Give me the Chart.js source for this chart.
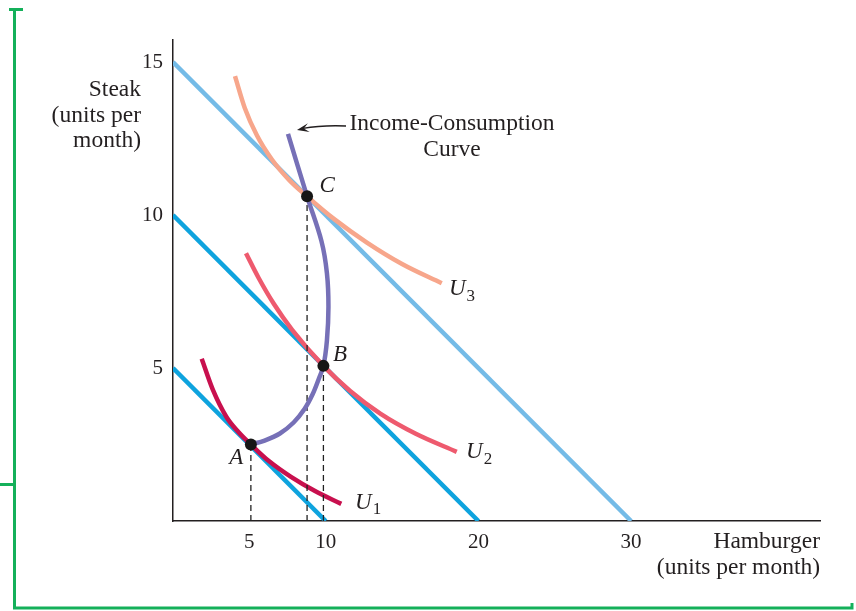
<!DOCTYPE html>
<html>
<head>
<meta charset="utf-8">
<script src="https://cdn.jsdelivr.net/npm/chart.js@4.4.0/dist/chart.umd.min.js"></script>
<style>
  html, body { margin: 0; padding: 0; background: #ffffff; }
  #wrap { width: 856px; height: 611px; position: relative; }
</style>
</head>
<body>
<div id="wrap"><canvas id="c" width="856" height="611"></canvas></div>
<script>
// ---------- data ----------
const hamburgerTicks = [5, 10, 20, 30];
const steakTicks = [5, 10, 15];

const budget1 = [[0, 5], [10, 0]];
const budget2 = [[0, 10], [20, 0]];
const budget3 = [[0, 15], [30, 0]];

const curveU1 = [[1.88, 5.3], [2.6, 4.3], [3.5, 3.4], [4.3, 2.9], [5.1, 2.5], [6.3, 1.95], [7.7, 1.45], [9.3, 0.98], [11.02, 0.56]];
const curveU2 = [[4.78, 8.75], [5.6, 7.95], [6.6, 7.1], [7.8, 6.25], [9.85, 5.07], [11.6, 4.25], [13.6, 3.5], [15.9, 2.85], [18.58, 2.26]];
const curveU3 = [[4.06, 14.54], [4.7, 13.5], [5.5, 12.6], [6.5, 11.8], [7.6, 11.15], [8.78, 10.61], [10.6, 9.85], [12.7, 9.1], [15.0, 8.4], [17.6, 7.77]];

const incomeConsumption = [[5.1, 2.5], [6.0, 2.63], [7.0, 2.86], [7.9, 3.22], [8.6, 3.65], [9.15, 4.15], [9.55, 4.65],
  [9.85, 5.07], [10.08, 5.9], [10.18, 7.0], [10.08, 8.1], [9.72, 9.15], [8.78, 10.61], [7.53, 12.65]];

const pointNames = ['A', 'B', 'C'];
const pointX = [5.1, 9.85, 8.78];
const pointY = [2.5, 5.07, 10.61];

const curveNames = ['U', 'U', 'U'];
const curveSubs = ['1', '2', '3'];

// ---------- helpers ----------
const toXY = arr => arr.map(p => ({ x: p[0], y: p[1] }));
const SERIF = '"Liberation Serif", "DejaVu Serif", serif';

function lineDS(data, color, order, extra) {
  return Object.assign({
    data: toXY(data), borderColor: color, borderWidth: 4.5, pointRadius: 0,
    tension: 0.4, fill: false, order: order, borderCapStyle: 'butt'
  }, extra || {});
}

const datasets = [
  lineDS(budget1, '#0ea3de', 6, { tension: 0 }),
  lineDS(budget2, '#0ea3de', 6, { tension: 0 }),
  lineDS(budget3, '#74bbe7', 6, { tension: 0 }),
  lineDS(curveU1, '#c8104e', 5, { cubicInterpolationMode: 'monotone' }),
  lineDS(curveU2, '#ee5a6e', 5, { cubicInterpolationMode: 'monotone' }),
  lineDS(curveU3, '#f7a68b', 5, { cubicInterpolationMode: 'monotone' }),
];
// dashed drop lines
for (let i = 0; i < pointX.length; i++) {
  datasets.push({
    data: [{ x: pointX[i], y: 0 }, { x: pointX[i], y: pointY[i] }],
    borderColor: '#222', borderWidth: 1.3, borderDash: [6, 4], pointRadius: 0,
    tension: 0, order: 4
  });
}
datasets.push(lineDS(incomeConsumption, '#7670b7', 2, { tension: 0.35 }));
datasets.push({
  data: pointX.map((x, i) => ({ x: x, y: pointY[i] })),
  showLine: false, pointRadius: 6, pointBackgroundColor: '#161616',
  pointBorderColor: '#161616', pointBorderWidth: 0, order: 0
});

// ---------- decorations & labels ----------
const framePlugin = {
  id: 'frame',
  beforeDraw(chart) {
    const ctx = chart.ctx;
    ctx.save();
    ctx.strokeStyle = '#14b05a';
    ctx.lineWidth = 3;
    ctx.beginPath();
    ctx.moveTo(9, 9.5); ctx.lineTo(23, 9.5);
    ctx.moveTo(14.5, 9); ctx.lineTo(14.5, 608);
    ctx.lineTo(852, 608); ctx.lineTo(852, 603);
    ctx.moveTo(0, 484.5); ctx.lineTo(14.5, 484.5);
    ctx.stroke();
    ctx.restore();
  }
};

const labelPlugin = {
  id: 'labels',
  afterDraw(chart) {
    const ctx = chart.ctx;
    const xs = chart.scales.x, ys = chart.scales.y;
    const px = v => xs.getPixelForValue(v), py = v => ys.getPixelForValue(v);
    const area = chart.chartArea;
    ctx.save();
    ctx.fillStyle = '#231f20';
    ctx.textBaseline = 'middle';

    // axis titles
    ctx.font = '23.5px ' + SERIF;
    ctx.textAlign = 'right';
    const yTitle = ['Steak', '(units per', 'month)'];
    yTitle.forEach((t, i) => ctx.fillText(t, area.left - 32, 90 + i * 25.5));
    const xTitle = ['Hamburger', '(units per month)'];
    xTitle.forEach((t, i) => ctx.fillText(t, area.right, 542 + i * 26));

    // point labels
    ctx.font = 'italic 23px ' + SERIF;
    ctx.textAlign = 'center';
    const lblPos = [[4.14, 2.06], [10.94, 5.42], [10.09, 10.95]];
    pointNames.forEach((n, i) => ctx.fillText(n, px(lblPos[i][0]), py(lblPos[i][1])));

    // curve labels with subscripts
    const uPos = [[11.92, 0.59], [19.19, 2.25], [18.07, 7.58]];
    curveNames.forEach((n, i) => {
      const x0 = px(uPos[i][0]), y0 = py(uPos[i][1]);
      ctx.textAlign = 'left';
      ctx.font = 'italic 23px ' + SERIF;
      ctx.fillText(n, x0, y0);
      const w = ctx.measureText(n).width;
      ctx.font = '17px ' + SERIF;
      ctx.fillText(curveSubs[i], x0 + w + 1, y0 + 7);
    });

    // income-consumption label
    ctx.font = '23.5px ' + SERIF;
    ctx.textAlign = 'center';
    ctx.fillText('Income-Consumption', px(18.27), py(12.97));
    ctx.fillText('Curve', px(18.27), py(12.12));

    // arrow
    const tx = px(11.33), ty = py(12.91), hx = px(8.12), hy = py(12.78);
    ctx.strokeStyle = '#231f20';
    ctx.lineWidth = 1.3;
    ctx.beginPath();
    ctx.moveTo(tx, ty);
    ctx.quadraticCurveTo((tx + hx) / 2, ty - 1, hx + 6, hy - 1.5);
    ctx.stroke();
    const ang = Math.atan2(hy - (ty - 1), hx - (tx + hx) / 2);
    ctx.beginPath();
    ctx.moveTo(hx, hy);
    ctx.lineTo(hx - 12 * Math.cos(ang) + 4.5 * Math.sin(ang), hy - 12 * Math.sin(ang) - 4.5 * Math.cos(ang));
    ctx.lineTo(hx - 7 * Math.cos(ang), hy - 7 * Math.sin(ang));
    ctx.lineTo(hx - 12 * Math.cos(ang) - 4.5 * Math.sin(ang), hy - 12 * Math.sin(ang) + 4.5 * Math.cos(ang));
    ctx.closePath();
    ctx.fillStyle = '#231f20';
    ctx.fill();
    ctx.restore();
  }
};

new Chart(document.getElementById('c'), {
  type: 'line',
  data: { datasets: datasets },
  options: {
    responsive: false,
    animation: false,
    events: [],
    layout: { padding: { left: 0, top: 40, right: 36, bottom: 0 } },
    plugins: { legend: { display: false }, tooltip: { enabled: false } },
    scales: {
      x: {
        type: 'linear', min: 0, max: 42.37,
        afterBuildTicks: s => { s.ticks = hamburgerTicks.map(v => ({ value: v })); },
        afterFit: s => { s.height = 90; },
        grid: { display: false, drawTicks: false },
        border: { display: true, color: '#231f20', width: 1.5 },
        ticks: { color: '#231f20', padding: 9, maxRotation: 0, autoSkip: false,
          font: { family: SERIF, size: 21 } }
      },
      y: {
        type: 'linear', min: 0, max: 15.72,
        afterBuildTicks: s => { s.ticks = steakTicks.map(v => ({ value: v })); },
        afterFit: s => { s.width = 173; },
        grid: { display: false, drawTicks: false },
        border: { display: true, color: '#231f20', width: 1.5 },
        ticks: { color: '#231f20', padding: 10, autoSkip: false,
          font: { family: SERIF, size: 21 } }
      }
    }
  },
  plugins: [framePlugin, labelPlugin]
});
</script>
</body>
</html>
